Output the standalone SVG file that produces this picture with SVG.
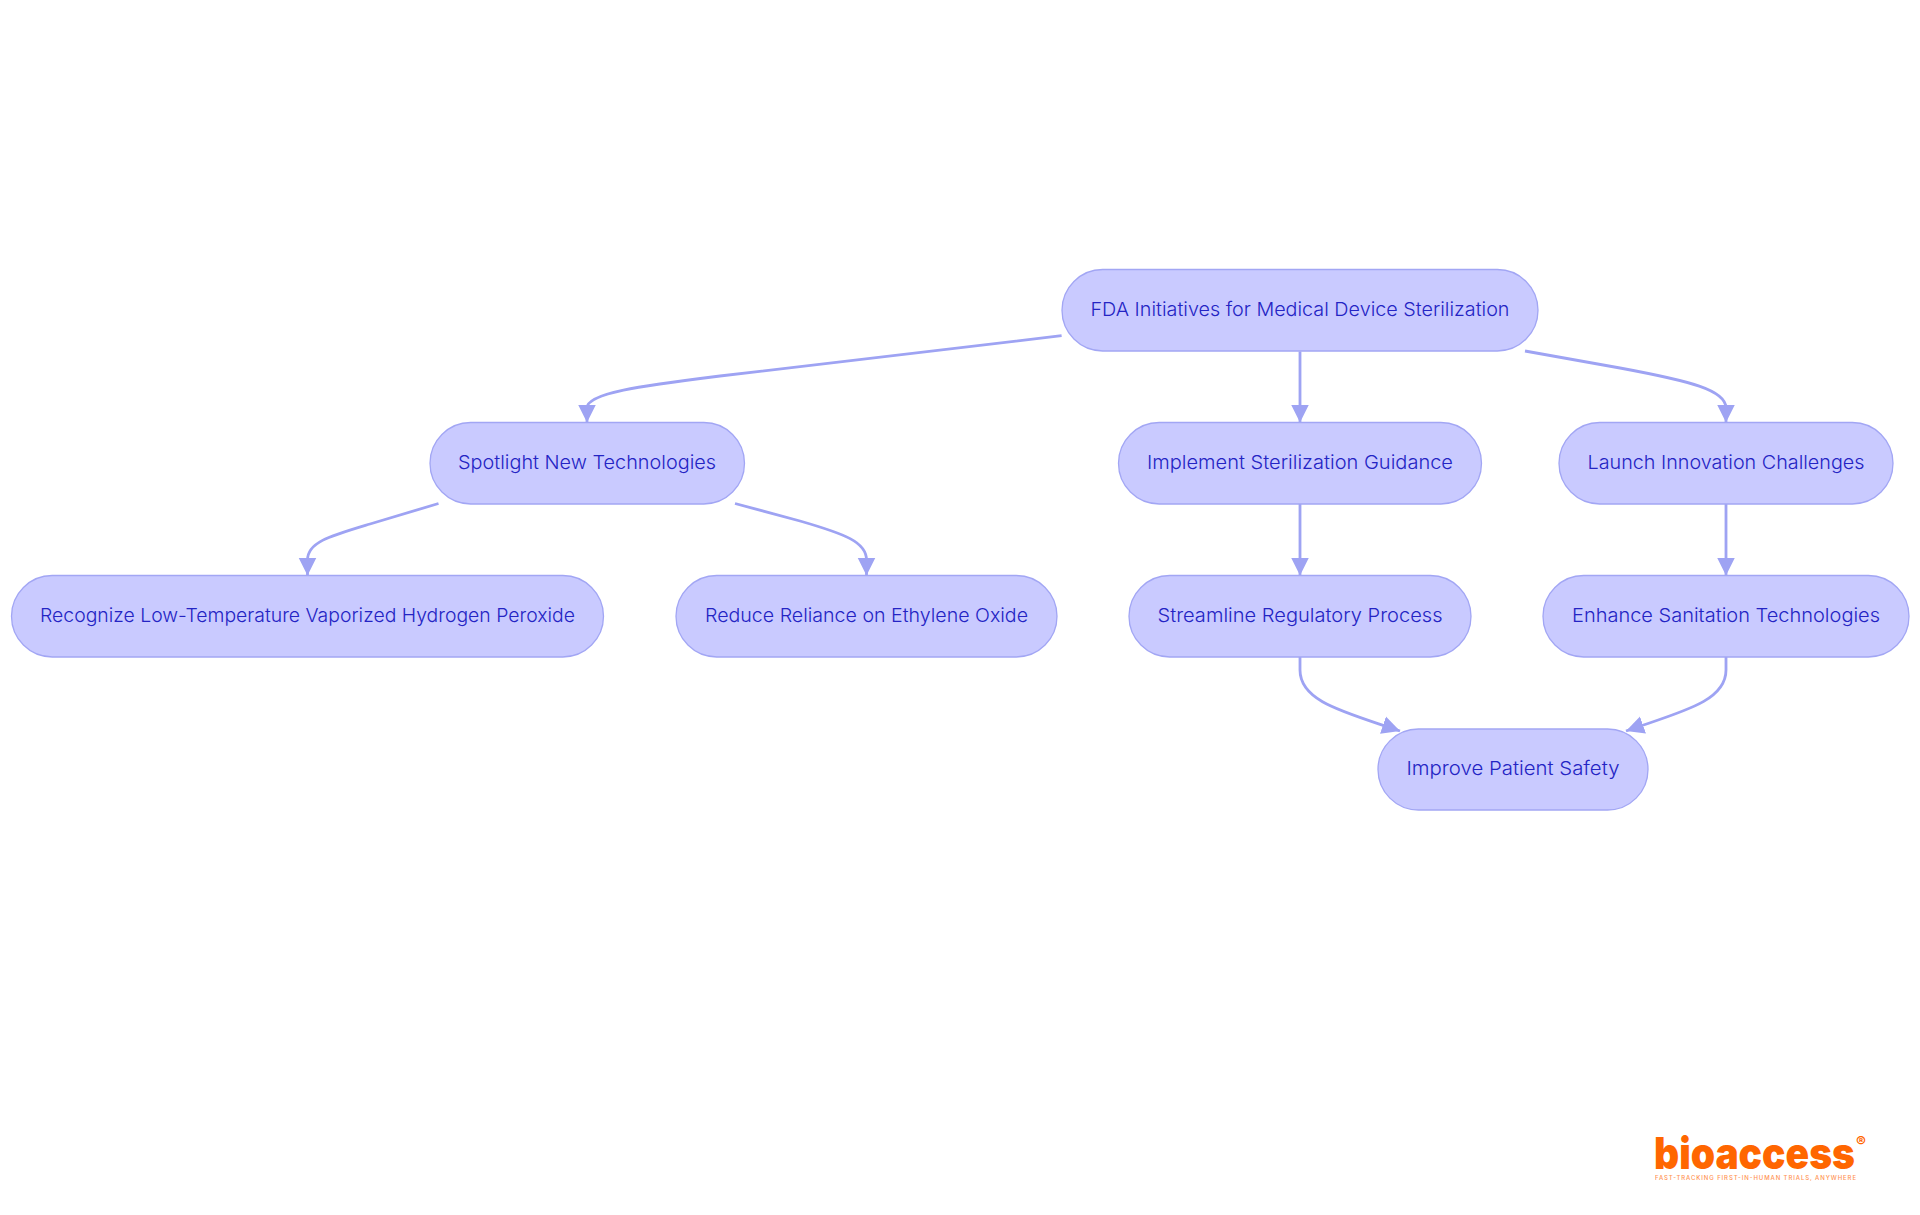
<svg xmlns="http://www.w3.org/2000/svg" width="1920" height="1215" viewBox="0 0 1920 1215">
<style>
.n{fill:#c9caff;stroke:#a2a6f4;stroke-width:1.3}
.t{font-family:"Inter","Noto Sans",sans-serif;font-size:19px;font-weight:300;fill:#2424c4;text-anchor:middle;dominant-baseline:central}
.e{fill:none;stroke:#9ea3f3;stroke-width:2.8;marker-end:url(#a)}
.l{font-family:"Inter","Liberation Sans",sans-serif;fill:#ff6600}
</style>
<defs><marker id="a" markerUnits="userSpaceOnUse" markerWidth="20" markerHeight="20" refX="18" refY="9.5" orient="auto"><path d="M0,0.5L18,9.5L0,18.5z" fill="#9ea3f3"/></marker></defs>
<rect width="1920" height="1215" fill="#fff"/>
<g id="connectors">
<path class="e" d="M1061.6,335.7L720,376C640,386 587,393 587,408V422.5"/>
<path class="e" d="M1300,351.4V422.5"/>
<path class="e" d="M1525,351L1620,368C1690,381 1726,390 1726,408V422.5"/>
<path class="e" d="M438.5,503.5L370,524C330,536 307.5,542 307.5,560V575.5"/>
<path class="e" d="M735,503.5L800,521C845,534 866.5,542 866.5,560V575.5"/>
<path class="e" d="M1300,656.5V670C1300,702 1345,712 1400,731"/>
<path class="e" d="M1300,503.5V575.5"/>
<path class="e" d="M1726,503.5V575.5"/>
<path class="e" d="M1726,656.5V670C1726,702 1680,712 1626,731"/>
</g>
<g id="n1"><rect class="n" x="1062" y="269.5" width="476" height="81.5" rx="40.7"/><text class="t" x="1300" y="309" textLength="419" lengthAdjust="spacingAndGlyphs">FDA Initiatives for Medical Device Sterilization</text></g>
<g id="n2"><rect class="n" x="430" y="422.5" width="314.5" height="81.5" rx="40.7"/><text class="t" x="587" y="462" textLength="258" lengthAdjust="spacingAndGlyphs">Spotlight New Technologies</text></g>
<g id="n3"><rect class="n" x="1118.5" y="422.5" width="363" height="81.5" rx="40.7"/><text class="t" x="1300" y="462" textLength="306" lengthAdjust="spacingAndGlyphs">Implement Sterilization Guidance</text></g>
<g id="n4"><rect class="n" x="1559" y="422.5" width="334" height="81.5" rx="40.7"/><text class="t" x="1726" y="462" textLength="277" lengthAdjust="spacingAndGlyphs">Launch Innovation Challenges</text></g>
<g id="n5"><rect class="n" x="11.5" y="575.5" width="592" height="81.5" rx="40.7"/><text class="t" x="307.5" y="615" textLength="535" lengthAdjust="spacingAndGlyphs">Recognize Low-Temperature Vaporized Hydrogen Peroxide</text></g>
<g id="n6"><rect class="n" x="676" y="575.5" width="381" height="81.5" rx="40.7"/><text class="t" x="866.5" y="615" textLength="323" lengthAdjust="spacingAndGlyphs">Reduce Reliance on Ethylene Oxide</text></g>
<g id="n7"><rect class="n" x="1129" y="575.5" width="342" height="81.5" rx="40.7"/><text class="t" x="1300" y="615" textLength="285" lengthAdjust="spacingAndGlyphs">Streamline Regulatory Process</text></g>
<g id="n8"><rect class="n" x="1543" y="575.5" width="366" height="81.5" rx="40.7"/><text class="t" x="1726" y="615" textLength="308" lengthAdjust="spacingAndGlyphs">Enhance Sanitation Technologies</text></g>
<g id="n9"><rect class="n" x="1378" y="729" width="270" height="81" rx="40.5"/><text class="t" x="1513" y="768" textLength="213" lengthAdjust="spacingAndGlyphs">Improve Patient Safety</text></g>
<g id="logo">
<text class="l" x="1654" y="1169" font-size="44" font-weight="900" textLength="201" lengthAdjust="spacingAndGlyphs">bioaccess</text>
<text class="l" x="1856" y="1147" font-size="15" font-weight="700">®</text>
<text class="l" x="1655" y="1180" font-size="6" font-weight="500" opacity=".7" textLength="201" lengthAdjust="spacing">FAST-TRACKING FIRST-IN-HUMAN TRIALS, ANYWHERE</text>
</g>
</svg>
